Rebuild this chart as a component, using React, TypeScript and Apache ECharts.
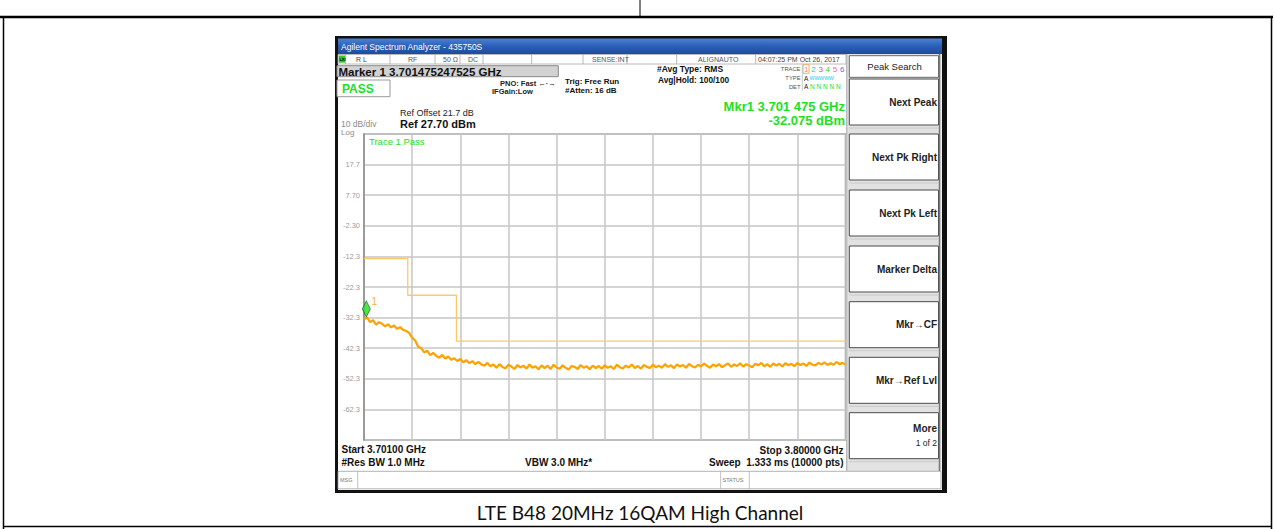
import React, { useEffect, useRef } from 'react';
import * as echarts from 'echarts';

// ---------------- data ----------------
const START_GHZ = 3.701;
const STOP_GHZ = 3.8;
const REF_DBM = 27.7;
const BOTTOM_DBM = -72.3;
const DB_PER_DIV = 10;
const X_DIVISIONS = 10;

const Y_TICK_LABELS = ['17.7', '7.70', '-2.30', '-12.3', '-22.3', '-32.3', '-42.3', '-52.3', '-62.3'];

const LIMIT_FREQ_GHZ = [3.701, 3.71, 3.71, 3.72, 3.72, 3.8];
const LIMIT_DBM = [-13, -13, -25, -25, -40, -40];

const TRACE_DBM = [
  -32.9, -32.2, -33.8, -33.1, -34.6, -33.8, -34.3, -35.2, -34.5, -35.5, -34.9, -36.0, -35.4, -36.3, -36.7, -37.3, -38.9, -39.8, -41.8, -42.3,
  -43.7, -43.1, -44.6, -43.8, -44.8, -45.4, -44.5, -45.7, -45.0, -46.1, -45.6, -46.5, -45.8, -46.9, -46.2, -47.2, -46.5, -47.5, -46.8, -47.6,
  -48.0, -47.1, -48.2, -47.6, -48.7, -47.5, -48.4, -48.9, -47.7, -48.3, -49.1, -47.8, -48.6, -48.0, -49.0, -47.6, -48.7, -48.2, -49.2, -47.9,
  -48.8, -48.0, -49.1, -47.7, -48.6, -49.0, -47.9, -48.7, -49.3, -48.1, -48.4, -49.1, -47.8, -48.7, -48.2, -49.2, -48.0, -48.8, -48.1, -49.0,
  -47.9, -48.7, -48.2, -49.1, -47.7, -48.5, -48.9, -48.0, -48.6, -47.6, -48.8, -48.1, -49.0, -47.8, -48.4, -48.8, -47.7, -48.5, -48.0, -48.7,
  -47.5, -48.4, -47.9, -48.8, -47.6, -48.3, -47.8, -48.7, -47.4, -48.2, -48.6, -47.7, -48.3, -47.3, -48.1, -48.7, -47.6, -48.2, -47.5, -48.5,
  -47.8, -47.3, -48.4, -47.6, -48.1, -47.2, -48.3, -47.5, -48.0, -48.5, -47.4, -47.9, -47.1, -48.2, -47.5, -48.4, -47.3, -48.0, -47.4, -48.3,
  -47.2, -47.9, -47.4, -48.2, -47.1, -47.8, -47.3, -48.1, -47.0, -47.7, -47.9, -47.1, -47.6, -46.9, -47.8, -47.2, -47.7, -46.8, -47.5, -47.1, -47.6,
];

const MARKER_FREQ_GHZ = 3.701475;
const MARKER_DBM = -32.075;

const SOFTKEYS = ['Next Peak', 'Next Pk Right', 'Next Pk Left', 'Marker Delta', 'Mkr\u2192CF', 'Mkr\u2192Ref Lvl', 'More'];

// ---------------- helpers ----------------
const FONT = '"Liberation Sans", Arial, sans-serif';
const GREEN = '#22e022';

function txt(x: number, y: number, text: string, size: number, color: string, weight = 'normal', align = 'left', family = FONT): any {
  return {
    type: 'text', x, y, z: 20,
    style: { text, fill: color, fontSize: size, fontWeight: weight, fontFamily: family, align, verticalAlign: 'middle', textAlign: align, textVerticalAlign: 'middle' },
  };
}
function rect(x: number, y: number, w: number, h: number, fill: any, stroke: string | null = null, lw = 1, z = -10): any {
  return { type: 'rect', z, shape: { x, y, width: w, height: h }, style: { fill, stroke: stroke || 'none', lineWidth: stroke ? lw : 0 } };
}
function ln(x1: number, y1: number, x2: number, y2: number, stroke: string, lw = 1, z = -5): any {
  return { type: 'line', z, shape: { x1, y1, x2, y2 }, style: { stroke, lineWidth: lw } };
}

function buildGraphics(): any[] {
  const g: any[] = [];
  // document frame
  g.push(ln(0, 17, 1273, 17, '#000', 2.5));
  g.push(ln(640, 0, 640, 17, '#000', 1));
  g.push(ln(3.5, 17, 3.5, 529, '#000', 1.5));
  g.push(ln(1271.5, 17, 1271.5, 529, '#000', 1.5));
  g.push(ln(3, 526.5, 1272, 526.5, '#000', 1.5));

  // window
  g.push(rect(335, 36, 612, 457, '#111', null, 0, -12));
  g.push(rect(338, 38.5, 604, 15.5, new echarts.graphic.LinearGradient(0, 0, 0, 1, [
    { offset: 0, color: '#4a82d6' }, { offset: 0.5, color: '#2a5fb5' }, { offset: 1, color: '#1d4c9c' },
  ]), null, 0, -11));
  g.push(rect(338, 54, 604, 436, '#ffffff', null, 0, -11));
  g.push(txt(341, 46.5, 'Agilent Spectrum Analyzer - 435750S', 8.5, '#ffffff'));

  // status row
  g.push(rect(338, 54.5, 508, 9.5, '#ffffff', '#a8a8a8', 0.8, -9));
  [345.5, 390, 435, 460, 483, 531.7, 583, 627, 676.7, 755.7].forEach((x) => g.push(ln(x, 54.5, x, 64, '#a8a8a8', 0.8, -8)));
  g.push(rect(338.8, 55.5, 6.2, 7.2, '#2ccc2c', null, 0, -7));
  g.push(txt(339.4, 59.2, 'LXI', 4, '#000', 'bold'));
  g.push(txt(356, 59.5, 'R L', 7, '#444'));
  g.push(txt(408, 59.5, 'RF', 7, '#555'));
  g.push(txt(443, 59.5, '50 \u03A9', 7, '#555'));
  g.push(txt(468, 59.5, 'DC', 7, '#555'));
  g.push(txt(592, 59.5, 'SENSE:INT', 7, '#555'));
  g.push(txt(698, 59.5, 'ALIGNAUTO', 7, '#555'));
  g.push(txt(758, 59.5, '04:07:25 PM Oct 26, 2017', 7, '#444'));

  // marker / pass boxes
  g.push(rect(337, 65.7, 221.3, 11, '#d2d2d2', '#8a8a8a', 1, -9));
  g.push(txt(338.5, 71.6, 'Marker 1 3.701475247525 GHz', 11.5, '#111', 'bold'));
  g.push(rect(337, 80, 53, 16.7, '#ffffff', '#9a9a9a', 1, -9));
  g.push(txt(342, 88.6, 'PASS', 12, GREEN, 'bold'));

  g.push(txt(500, 83.3, 'PNO: Fast \u2190\u00B7\u2192', 7.5, '#222', 'bold'));
  g.push(txt(492, 91.7, 'IFGain:Low', 7.5, '#222', 'bold'));
  g.push(txt(565, 81.5, 'Trig: Free Run', 8, '#111', 'bold'));
  g.push(txt(565, 90.2, '#Atten: 16 dB', 8, '#111', 'bold'));
  g.push(txt(657, 69.3, '#Avg Type: RMS', 8.5, '#111', 'bold'));
  g.push(txt(658, 79.6, 'Avg|Hold: 100/100', 8.3, '#111', 'bold'));

  // trace / type / det block
  g.push(txt(800.5, 69.3, 'TRACE', 5.8, '#555', 'normal', 'right'));
  g.push(txt(800.5, 78.3, 'TYPE', 5.8, '#555', 'normal', 'right'));
  g.push(txt(800.5, 86.8, 'DET', 5.8, '#555', 'normal', 'right'));
  g.push(ln(802.3, 65, 802.3, 91, '#bbb', 0.8));
  g.push(rect(803, 64.8, 6, 8.5, '#ffffff', '#f0a030', 0.8, -7));
  const digitColors = ['#f09a20', '#20c8e8', '#e040c0', '#30d030', '#ff60a0', '#8060e0'];
  ['1', '2', '3', '4', '5', '6'].forEach((d, i) => g.push(txt(804 + i * 7.2, 69.3, d, 8, digitColors[i])));
  g.push(txt(804, 78.3, 'A', 6.5, '#222'));
  g.push(txt(809.5, 78.3, 'WWWWW', 5.2, '#20c8e8'));
  g.push(txt(804, 86.8, 'A', 6.5, '#222'));
  g.push(txt(810, 86.8, 'N N N N N', 6.5, GREEN));

  // marker readout
  g.push(txt(845, 106.2, 'Mkr1 3.701 475 GHz', 13, GREEN, 'bold', 'right'));
  g.push(txt(845, 120.3, '-32.075 dBm', 13, GREEN, 'bold', 'right'));

  // ref
  g.push(txt(400, 113.3, 'Ref Offset 21.7 dB', 9, '#222'));
  g.push(txt(400, 124.4, 'Ref 27.70 dBm', 11, '#111', 'bold'));
  g.push(txt(341, 124.2, '10 dB/div', 8.5, '#8a8a8a'));
  g.push(txt(341, 132.4, 'Log', 8, '#8a8a8a'));
  g.push(txt(369, 141.7, 'Trace 1 Pass', 9.5, GREEN));

  // bottom annotations
  g.push(txt(341.5, 449.5, 'Start 3.70100 GHz', 10, '#111', 'bold'));
  g.push(txt(341.5, 462, '#Res BW 1.0 MHz', 10, '#111', 'bold'));
  g.push(txt(525, 462.3, 'VBW 3.0 MHz*', 10, '#111', 'bold'));
  g.push(txt(843.5, 450, 'Stop 3.80000 GHz', 10, '#111', 'bold', 'right'));
  g.push(txt(843.5, 462.3, 'Sweep  1.333 ms (10000 pts)', 10, '#111', 'bold', 'right'));

  // msg bar
  g.push(rect(338, 471.3, 603, 17.5, '#ffffff', '#a0a0a0', 0.8, -8));
  g.push(ln(357.7, 471.3, 357.7, 488.8, '#b0b0b0', 0.8));
  g.push(ln(720.7, 471.3, 720.7, 488.8, '#b0b0b0', 0.8));
  g.push(ln(749.3, 471.3, 749.3, 488.8, '#b0b0b0', 0.8));
  g.push(txt(340, 480, 'MSG', 5.5, '#777'));
  g.push(txt(722.5, 480, 'STATUS', 5.5, '#777'));

  // softkey panel
  g.push(ln(846.8, 54, 846.8, 471, '#b8b8b8', 1.5));
  g.push(rect(847.5, 54, 94, 417, '#e2e2e2', null, 0, -10));
  g.push(rect(849.3, 55.7, 89.2, 21.6, '#ffffff', '#6a6a6a', 1, -9));
  g.push(txt(894.5, 66.3, 'Peak Search', 9.5, '#222', 'normal', 'center'));
  const tops = [79, 134, 190, 246, 301.7, 357.3, 412.7];
  tops.forEach((t, i) => {
    g.push(rect(849.3, t, 89.2, 46, '#ffffff', '#4a4a4a', 1, -9));
    g.push(ln(849.3, t + 49, 938.5, t + 49, '#c4c4c4', 0.8, -8));
    if (i === SOFTKEYS.length - 1) {
      g.push(txt(937, t + 15.6, SOFTKEYS[i], 10, '#222', 'bold', 'right'));
      g.push(txt(937, t + 30.6, '1 of 2', 8.5, '#222', 'normal', 'right'));
    } else {
      g.push(txt(937, t + 23, SOFTKEYS[i], 10, '#222', 'bold', 'right'));
    }
  });
  g.push(ln(939.5, 54, 939.5, 471, '#777', 1.5));

  // caption
  g.push(txt(640, 512, 'LTE B48 20MHz 16QAM High Channel', 19, '#111', 'normal', 'center', 'Lato, "Noto Sans", sans-serif'));
  return g;
}

function buildOption(): any {
  const n = TRACE_DBM.length;
  const traceData = TRACE_DBM.map((v, i) => [START_GHZ + (i * (STOP_GHZ - START_GHZ)) / (n - 1), v]);
  const limitData = LIMIT_FREQ_GHZ.map((f, i) => [f, LIMIT_DBM[i]]);
  return {
    animation: false,
    backgroundColor: '#ffffff',
    grid: { left: 364, top: 134, width: 481.5, height: 306, show: true, borderColor: '#8e8e8e', borderWidth: 1.5, backgroundColor: 'transparent', containLabel: false },
    xAxis: {
      type: 'value', min: START_GHZ, max: STOP_GHZ, interval: (STOP_GHZ - START_GHZ) / X_DIVISIONS,
      axisLabel: { show: false }, axisTick: { show: false }, axisLine: { show: false },
      splitLine: { show: true, lineStyle: { color: '#c6c6c6', width: 1.5 } },
    },
    yAxis: {
      type: 'value', min: BOTTOM_DBM, max: REF_DBM, interval: DB_PER_DIV,
      axisTick: { show: false }, axisLine: { show: true, lineStyle: { color: '#8e8e8e', width: 1.5 } },
      splitLine: { show: true, lineStyle: { color: '#c6c6c6', width: 1.5 } },
      axisLabel: {
        margin: 4, color: '#9c9c9c', fontSize: 7.5, fontFamily: FONT,
        formatter: (v: number) => Y_TICK_LABELS.find((l) => Math.abs(parseFloat(l) - v) < 0.05) || '',
      },
    },
    graphic: { elements: buildGraphics() },
    series: [
      {
        type: 'line', name: 'limit', data: limitData, symbol: 'none', silent: true, z: 3,
        lineStyle: { color: '#ffc765', width: 1.3 },
      },
      {
        type: 'line', name: 'trace', data: traceData, symbol: 'none', silent: true, z: 4,
        lineStyle: { color: '#ffa200', width: 2.2 },
      },
      {
        type: 'scatter', name: 'marker', data: [[MARKER_FREQ_GHZ, MARKER_DBM]], z: 6,
        symbol: 'diamond', symbolSize: [8, 16], symbolOffset: [0, -8],
        itemStyle: { color: '#22dd22', borderColor: '#1a5a1a', borderWidth: 0.8 },
        label: { show: true, formatter: '1', position: 'right', offset: [-4, -7], color: '#ff9a00', fontSize: 10, fontFamily: FONT },
      },
    ],
  };
}

export default function App() {
  const ref = useRef<HTMLDivElement>(null);
  useEffect(() => {
    if (!ref.current) return;
    const chart = echarts.init(ref.current, null, { renderer: 'svg' });
    chart.setOption(buildOption());
    return () => chart.dispose();
  }, []);
  return <div ref={ref} style={{ position: 'absolute', left: 0, top: 0, width: 1275, height: 529, background: '#fff' }} />;
}
